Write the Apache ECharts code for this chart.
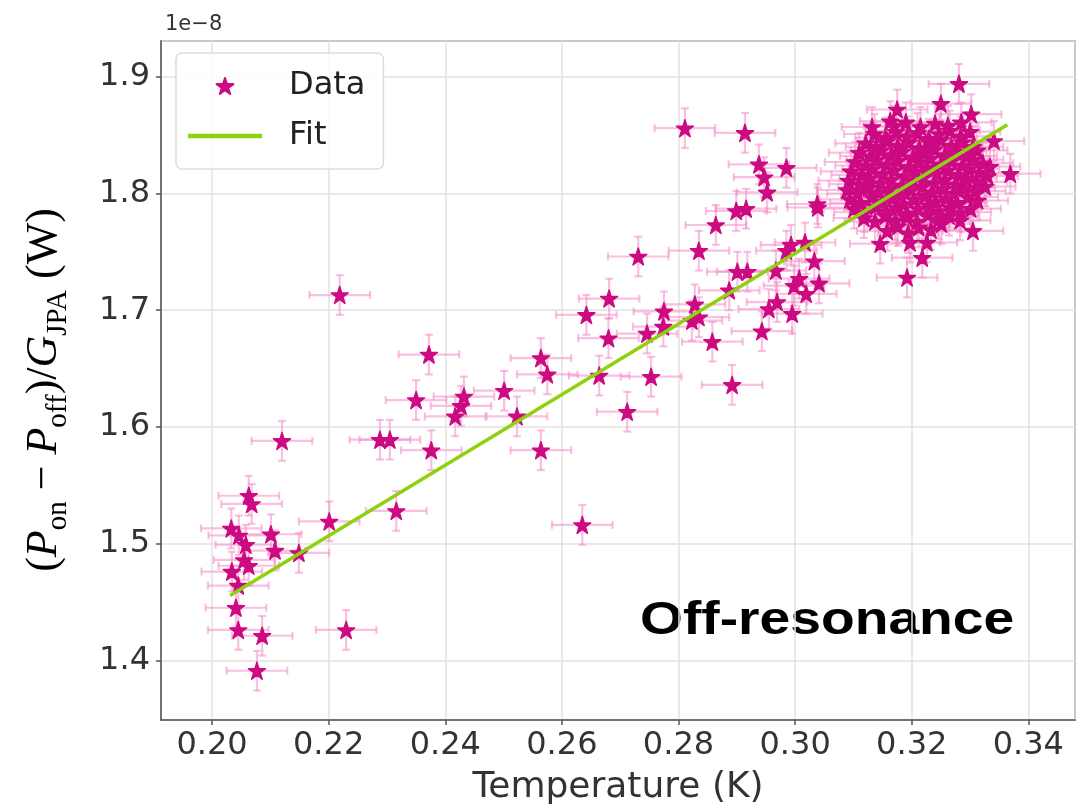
<!DOCTYPE html>
<html>
<head>
<meta charset="utf-8">
<script src="https://cdn.jsdelivr.net/npm/echarts@6/dist/echarts.min.js"></script>
<style>
html,body{margin:0;padding:0;background:#fff;}
#chart{width:1077px;height:811px;}
</style>
</head>
<body>
<div id="chart"></div>
<script>
// Scattered measurements (temperature in K, power in units of 1e-8 W)
const temperature = [
  0.2063,0.2068,0.2033,0.2046,0.2058,0.2101,0.2108,0.2149,0.2201,0.2316,
  0.2055,0.2063,0.2034,0.2045,0.2041,0.2045,0.2086,0.2230,0.2077,0.2120,
  0.2219,0.2288,0.2305,0.2376,0.2372,0.2350,0.2432,0.2427,0.2417,0.2501,
  0.2523,0.2564,0.2575,0.2564,0.2635,0.2642,0.2681,0.2680,0.2664,0.2731,
  0.2712,0.2746,0.2775,0.2774,0.2753,0.2828,0.2835,0.2823,0.2858,0.2892,
  0.2943,0.2955,0.2969,0.2995,0.2887,0.2901,0.2918,0.2967,0.2835,0.2985,
  0.2998,0.2811,0.2914,0.2864,0.2899,0.2916,0.2938,0.2947,0.2952,0.3038,
  0.3017,0.2993,0.3033,0.3041,0.3019,0.2985,0.3039,0.3007,0.3281,0.3250,
  0.3175,0.3163,0.3132,0.3302,0.3369,0.3192,0.3218,0.3305,0.3146,0.3226,
  0.3197,0.3341
];
const power = [
  1.541,1.534,1.513,1.507,1.499,1.508,1.494,1.492,1.519,1.528,
  1.486,1.481,1.476,1.464,1.445,1.426,1.421,1.426,1.391,1.588,
  1.713,1.589,1.589,1.580,1.662,1.623,1.626,1.618,1.609,1.631,
  1.609,1.659,1.645,1.580,1.516,1.696,1.710,1.676,1.644,1.746,
  1.613,1.680,1.699,1.686,1.643,1.705,1.694,1.691,1.673,1.636,
  1.682,1.701,1.707,1.697,1.717,1.733,1.733,1.734,1.751,1.751,
  1.721,1.856,1.852,1.773,1.785,1.787,1.825,1.814,1.801,1.791,
  1.758,1.756,1.742,1.723,1.714,1.822,1.788,1.727,1.894,1.877,
  1.872,1.862,1.857,1.868,1.817,1.728,1.745,1.768,1.757,1.758,
  1.758,1.845
];
// Dense cluster near 0.32 K (read row by row)
const clusterT = [
  0.3158,0.3176,0.3194,0.3212,0.3233,0.3251,
  0.3118,0.3137,0.3155,0.3172,0.3191,0.3209,0.3228,0.3246,0.3264,0.3283,
  0.3101,0.3119,0.3138,0.3156,0.3173,0.3192,0.3211,0.3229,0.3247,0.3266,0.3284,0.3301,
  0.3094,0.3112,0.3131,0.3149,0.3167,0.3186,0.3204,0.3222,0.3241,0.3259,0.3277,0.3296,0.3313,
  0.3089,0.3107,0.3126,0.3144,0.3162,0.3181,0.3199,0.3218,0.3236,0.3254,0.3273,0.3291,0.3309,0.3326,
  0.3092,0.3110,0.3128,0.3147,0.3165,0.3184,0.3202,0.3220,0.3239,0.3257,0.3276,0.3294,0.3312,0.3330,
  0.3096,0.3114,0.3133,0.3151,0.3170,0.3188,0.3207,0.3225,0.3243,0.3262,0.3280,0.3298,0.3316,0.3334,
  0.3103,0.3121,0.3140,0.3158,0.3176,0.3195,0.3213,0.3232,0.3250,0.3268,0.3287,0.3305,0.3322,
  0.3110,0.3129,0.3147,0.3165,0.3184,0.3202,0.3221,0.3239,0.3257,0.3276,0.3294,0.3312,
  0.3121,0.3139,0.3158,0.3176,0.3195,0.3213,0.3232,0.3250,0.3268,0.3287,0.3305,
  0.3136,0.3155,0.3173,0.3192,0.3210,0.3229,0.3247,0.3265,0.3284,0.3300,
  0.3170,0.3190,0.3215,0.3240,0.3262,0.3285
];
const clusterP = [
  1.768,1.772,1.766,1.771,1.769,1.774,
  1.779,1.776,1.781,1.777,1.780,1.776,1.782,1.778,1.781,1.777,
  1.787,1.784,1.789,1.785,1.788,1.783,1.787,1.790,1.785,1.788,1.784,1.787,
  1.795,1.792,1.797,1.793,1.796,1.791,1.795,1.798,1.793,1.796,1.792,1.797,1.794,
  1.803,1.800,1.805,1.801,1.804,1.799,1.803,1.806,1.801,1.804,1.800,1.805,1.802,1.806,
  1.811,1.808,1.813,1.809,1.812,1.807,1.811,1.814,1.809,1.812,1.808,1.813,1.810,1.815,
  1.819,1.816,1.821,1.817,1.820,1.815,1.819,1.822,1.817,1.820,1.816,1.821,1.818,1.823,
  1.827,1.824,1.829,1.825,1.828,1.823,1.827,1.830,1.825,1.828,1.824,1.829,1.826,
  1.835,1.832,1.837,1.833,1.836,1.831,1.835,1.838,1.833,1.836,1.832,1.837,
  1.843,1.840,1.845,1.841,1.844,1.839,1.843,1.846,1.841,1.844,1.840,
  1.851,1.848,1.853,1.849,1.852,1.847,1.851,1.854,1.849,1.853,
  1.858,1.861,1.857,1.860,1.858,1.861
];
const tempErr = 0.0052;   // K
const powerErr = 0.017;   // 1e-8 W
const fitT = [0.2031, 0.3364];
const fitP = [1.4555, 1.859];
const xTickDecimals = 2;
const yTickDecimals = 1;

const allT = temperature.concat(clusterT);
const allP = power.concat(clusterP);
const pointData = allT.map((t, i) => [t, allP[i]]);
const errData = allT.map((t, i) => [t, allP[i], tempErr, powerErr]);
const fitData = fitT.map((t, i) => [t, fitP[i]]);

const STAR = 'path://M50 0L61.2 34.5L97.6 34.5L68.2 55.9L79.4 90.5L50 69.1L20.6 90.5L31.8 55.9L2.4 34.5L38.8 34.5Z';
const BAR = 'path://M0 0H100V6H0Z';
const markColor = '#cc0a82';
const fitColor = '#8fd10f';
const errColor = 'rgba(244,140,200,0.55)';

const chart = echarts.init(document.getElementById('chart'), null, {renderer: 'canvas'});
const tickFont = {fontFamily: 'DejaVu Sans', fontSize: 32, color: '#333'};

chart.setOption({
  animation: false,
  backgroundColor: '#fff',
  grid: {left: 161, right: 2, top: 41, bottom: 88, show: true, borderColor: '#555', borderWidth: 1.5, backgroundColor: 'transparent'},
  xAxis: {
    type: 'value', min: 0.19125, max: 0.348, splitNumber: 8,
    axisLine: {show: true, lineStyle: {color: '#555', width: 1.5}},
    axisTick: {show: true, length: 5, lineStyle: {color: '#555', width: 1.5}},
    axisLabel: Object.assign({margin: 10, showMinLabel: false, showMaxLabel: false,
      formatter: v => v.toFixed(xTickDecimals)}, tickFont),
    splitLine: {show: true, lineStyle: {color: '#e2e2e2', width: 1.5}},
    name: 'Temperature (K)', nameLocation: 'middle', nameGap: 50,
    nameTextStyle: {fontFamily: 'DejaVu Sans', fontSize: 36, color: '#333'}
  },
  yAxis: {
    type: 'value', min: 1.3488, max: 1.9307, splitNumber: 6,
    axisLine: {show: true, lineStyle: {color: '#555', width: 1.5}},
    axisTick: {show: true, length: 5, lineStyle: {color: '#555', width: 1.5}},
    axisLabel: Object.assign({margin: 11, showMinLabel: false, showMaxLabel: false,
      formatter: v => v.toFixed(yTickDecimals)}, tickFont),
    splitLine: {show: true, lineStyle: {color: '#e2e2e2', width: 1.5}}
  },
  legend: {
    orient: 'vertical', left: 176, top: 53,
    padding: [15, 18, 15, 12], itemGap: 14,
    itemWidth: 74, itemHeight: 16,
    backgroundColor: 'rgba(255,255,255,0.85)', borderColor: '#dcdcdc', borderWidth: 1.5, borderRadius: 6,
    textStyle: {fontFamily: 'DejaVu Sans', fontSize: 32, color: '#222', lineHeight: 36, padding: [0, 0, 0, 22]},
    data: [{name: 'Data', icon: STAR}, {name: 'Fit', icon: BAR}]
  },
  series: [
    {
      type: 'custom', name: 'err', z: 1, clip: true,
      data: errData,
      renderItem: function (params, api) {
        const x = api.value(0), y = api.value(1), xe = api.value(2), ye = api.value(3);
        const l = api.coord([x - xe, y]), r = api.coord([x + xe, y]);
        const t = api.coord([x, y + ye]), b = api.coord([x, y - ye]);
        const c = 4;
        const st = {stroke: errColor, lineWidth: 2.2};
        return {type: 'group', children: [
          {type: 'line', shape: {x1: l[0], y1: l[1], x2: r[0], y2: r[1]}, style: st},
          {type: 'line', shape: {x1: t[0], y1: t[1], x2: b[0], y2: b[1]}, style: st},
          {type: 'line', shape: {x1: l[0], y1: l[1] - c, x2: l[0], y2: l[1] + c}, style: st},
          {type: 'line', shape: {x1: r[0], y1: r[1] - c, x2: r[0], y2: r[1] + c}, style: st},
          {type: 'line', shape: {x1: t[0] - c, y1: t[1], x2: t[0] + c, y2: t[1]}, style: st},
          {type: 'line', shape: {x1: b[0] - c, y1: b[1], x2: b[0] + c, y2: b[1]}, style: st}
        ]};
      }
    },
    {
      type: 'scatter', name: 'Data', z: 3,
      symbol: STAR, symbolSize: 17,
      itemStyle: {color: markColor, opacity: 1, borderColor: markColor, borderWidth: 1.5, borderJoin: 'round'},
      data: pointData
    },
    {
      type: 'line', name: 'Fit', z: 4,
      symbol: 'none', showSymbol: false,
      lineStyle: {color: fitColor, width: 3.5},
      itemStyle: {color: fitColor},
      data: fitData
    }
  ],
  graphic: [
    {type: 'text', left: 165, top: 14, style: {text: '1e\u22128', font: '21px "DejaVu Sans"', fill: '#333'}},
    {type: 'text', x: 640, y: 621, scaleX: 1.2, style: {text: 'Off-resonance', font: 'bold 46px "Liberation Sans"', fill: '#000', verticalAlign: 'middle', align: 'left'}},
    {
      type: 'text', x: 44, y: 390, rotation: Math.PI / 2,
      style: {
        text: '({i|P}{s|on} \u2212 {i|P}{s|off})/{i|G}{s|JPA} (W)',
        font: '44px "Liberation Serif"', fill: '#000', align: 'center', verticalAlign: 'middle',
        lineHeight: 50,
        rich: {
          i: {fontFamily: 'Liberation Serif', fontStyle: 'italic', fontSize: 44, lineHeight: 50, verticalAlign: 'middle'},
          s: {fontFamily: 'Liberation Serif', fontSize: 29, lineHeight: 29, verticalAlign: 'bottom', padding: [0, 0, -4, 0]}
        }
      }
    }
  ]
});
</script>
</body>
</html>
